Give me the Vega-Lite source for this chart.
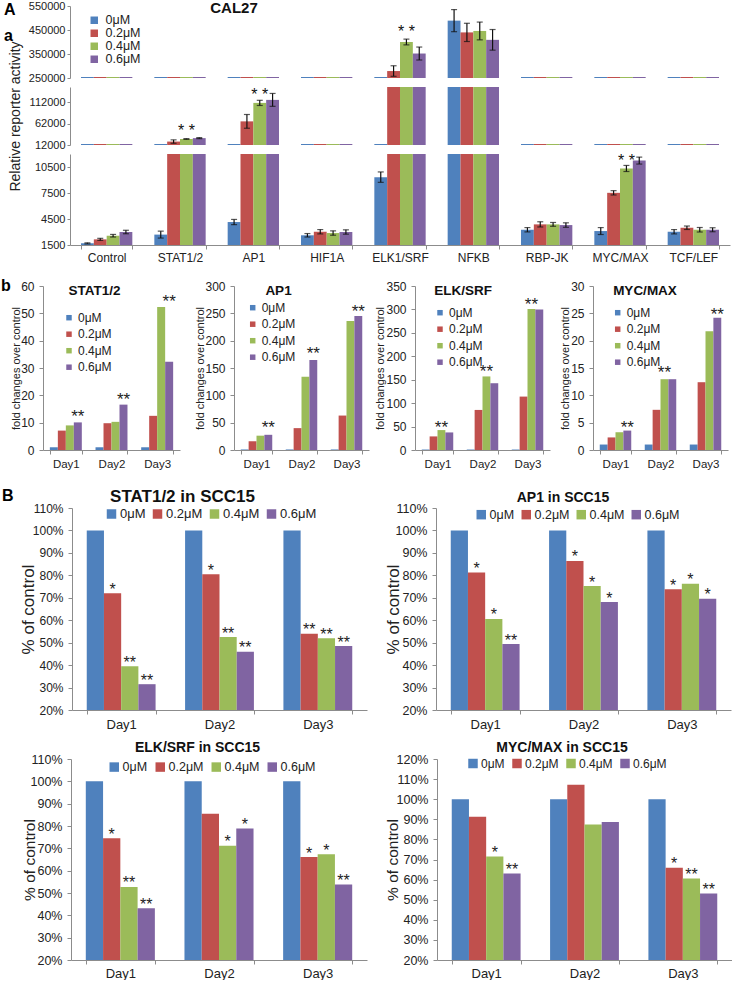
{
  "$schema": "https://vega.github.io/schema/vega-lite/v6.json",
  "padding": {"left": 1, "top": 0, "right": 0, "bottom": 0},
  "columns": 1,
  "align": "none",
  "spacing": 10,
  "config": {
    "font": "Liberation Sans",
    "view": {"stroke": null},
    "axis": {"grid": false, "labelOverlap": false, "domainColor": "#8c8c8c", "tickColor": "#8c8c8c", "labelColor": "#222222", "titleColor": "#222222", "titleFontWeight": "normal"},
    "legend": {"labelColor": "#222222", "padding": 0, "symbolStrokeWidth": 0},
    "title": {"color": "#111111"},
    "text": {"color": "#222222"}
  },
  "resolve": {"scale": {"color": "independent", "stroke": "independent", "x": "independent", "y": "independent", "xOffset": "independent"}, "legend": {"color": "independent"}},
  "datasets": {
    "A": [
      {"cat": "Control", "dose": "0μM", "v": 1700, "lo": 1640, "hi": 1760},
      {"cat": "Control", "dose": "0.2μM", "v": 2150, "lo": 2030, "hi": 2270},
      {"cat": "Control", "dose": "0.4μM", "v": 2570, "lo": 2420, "hi": 2720},
      {"cat": "Control", "dose": "0.6μM", "v": 3000, "lo": 2800, "hi": 3200},
      {"cat": "STAT1/2", "dose": "0μM", "v": 2700, "lo": 2300, "hi": 3100},
      {"cat": "STAT1/2", "dose": "0.2μM", "v": 20000, "lo": 16000, "hi": 24000},
      {"cat": "STAT1/2", "dose": "0.4μM", "v": 26000, "lo": 25200, "hi": 26800},
      {"cat": "STAT1/2", "dose": "0.6μM", "v": 28000, "lo": 26800, "hi": 29200},
      {"cat": "AP1", "dose": "0μM", "v": 4150, "lo": 3850, "hi": 4450},
      {"cat": "AP1", "dose": "0.2μM", "v": 67000, "lo": 51000, "hi": 83000},
      {"cat": "AP1", "dose": "0.4μM", "v": 110000, "lo": 104000, "hi": 116000},
      {"cat": "AP1", "dose": "0.6μM", "v": 117000, "lo": 102000, "hi": 132000},
      {"cat": "HIF1A", "dose": "0μM", "v": 2620, "lo": 2420, "hi": 2820},
      {"cat": "HIF1A", "dose": "0.2μM", "v": 3030, "lo": 2780, "hi": 3280},
      {"cat": "HIF1A", "dose": "0.4μM", "v": 2880, "lo": 2630, "hi": 3130},
      {"cat": "HIF1A", "dose": "0.6μM", "v": 3000, "lo": 2750, "hi": 3250},
      {"cat": "ELK1/SRF", "dose": "0μM", "v": 9330, "lo": 8730, "hi": 9930},
      {"cat": "ELK1/SRF", "dose": "0.2μM", "v": 279000, "lo": 257000, "hi": 301000},
      {"cat": "ELK1/SRF", "dose": "0.4μM", "v": 400000, "lo": 388000, "hi": 412000},
      {"cat": "ELK1/SRF", "dose": "0.6μM", "v": 352000, "lo": 325000, "hi": 379000},
      {"cat": "NFKB", "dose": "0μM", "v": 489000, "lo": 443000, "hi": 535000},
      {"cat": "NFKB", "dose": "0.2μM", "v": 440000, "lo": 402000, "hi": 478000},
      {"cat": "NFKB", "dose": "0.4μM", "v": 446000, "lo": 409000, "hi": 483000},
      {"cat": "NFKB", "dose": "0.6μM", "v": 409000, "lo": 366000, "hi": 452000},
      {"cat": "RBP-JK", "dose": "0μM", "v": 3260, "lo": 3010, "hi": 3510},
      {"cat": "RBP-JK", "dose": "0.2μM", "v": 3880, "lo": 3580, "hi": 4180},
      {"cat": "RBP-JK", "dose": "0.4μM", "v": 3880, "lo": 3660, "hi": 4100},
      {"cat": "RBP-JK", "dose": "0.6μM", "v": 3800, "lo": 3540, "hi": 4060},
      {"cat": "MYC/MAX", "dose": "0μM", "v": 3110, "lo": 2710, "hi": 3510},
      {"cat": "MYC/MAX", "dose": "0.2μM", "v": 7520, "lo": 7270, "hi": 7770},
      {"cat": "MYC/MAX", "dose": "0.4μM", "v": 10330, "lo": 9980, "hi": 10680},
      {"cat": "MYC/MAX", "dose": "0.6μM", "v": 11240, "lo": 10840, "hi": 11640},
      {"cat": "TCF/LEF", "dose": "0μM", "v": 3030, "lo": 2780, "hi": 3280},
      {"cat": "TCF/LEF", "dose": "0.2μM", "v": 3490, "lo": 3290, "hi": 3690},
      {"cat": "TCF/LEF", "dose": "0.4μM", "v": 3260, "lo": 3000, "hi": 3520},
      {"cat": "TCF/LEF", "dose": "0.6μM", "v": 3260, "lo": 3030, "hi": 3490}
    ],
    "Aann": [
      {"cat": "STAT1/2", "dose": "0.4μM", "seg": "mid", "y": 56000, "t": "* *"},
      {"cat": "AP1", "dose": "0.4μM", "seg": "mid", "y": 140000, "t": "* *"},
      {"cat": "ELK1/SRF", "dose": "0.4μM", "seg": "top", "y": 464000, "t": "* *"},
      {"cat": "MYC/MAX", "dose": "0.4μM", "seg": "bot", "y": 11800, "t": "* *"}
    ],
    "b": [
      {"p": "STAT1/2", "day": "Day1", "dose": "0μM", "v": 1, "t": ""},
      {"p": "STAT1/2", "day": "Day1", "dose": "0.2μM", "v": 7.1, "t": ""},
      {"p": "STAT1/2", "day": "Day1", "dose": "0.4μM", "v": 9.0, "t": ""},
      {"p": "STAT1/2", "day": "Day1", "dose": "0.6μM", "v": 10.1, "t": "**", "sy": 13.6},
      {"p": "STAT1/2", "day": "Day2", "dose": "0μM", "v": 1, "t": ""},
      {"p": "STAT1/2", "day": "Day2", "dose": "0.2μM", "v": 9.8, "t": ""},
      {"p": "STAT1/2", "day": "Day2", "dose": "0.4μM", "v": 10.3, "t": ""},
      {"p": "STAT1/2", "day": "Day2", "dose": "0.6μM", "v": 16.6, "t": "**", "sy": 19.8},
      {"p": "STAT1/2", "day": "Day3", "dose": "0μM", "v": 1, "t": ""},
      {"p": "STAT1/2", "day": "Day3", "dose": "0.2μM", "v": 12.5, "t": ""},
      {"p": "STAT1/2", "day": "Day3", "dose": "0.4μM", "v": 52.3, "t": ""},
      {"p": "STAT1/2", "day": "Day3", "dose": "0.6μM", "v": 32.3, "t": "**", "sy": 55.7},
      {"p": "AP1", "day": "Day1", "dose": "0μM", "v": 1, "t": ""},
      {"p": "AP1", "day": "Day1", "dose": "0.2μM", "v": 16, "t": ""},
      {"p": "AP1", "day": "Day1", "dose": "0.4μM", "v": 26.2, "t": ""},
      {"p": "AP1", "day": "Day1", "dose": "0.6μM", "v": 27.8, "t": "**", "sy": 47},
      {"p": "AP1", "day": "Day2", "dose": "0μM", "v": 1, "t": ""},
      {"p": "AP1", "day": "Day2", "dose": "0.2μM", "v": 40, "t": ""},
      {"p": "AP1", "day": "Day2", "dose": "0.4μM", "v": 134, "t": ""},
      {"p": "AP1", "day": "Day2", "dose": "0.6μM", "v": 164.5, "t": "**", "sy": 183},
      {"p": "AP1", "day": "Day3", "dose": "0μM", "v": 1, "t": ""},
      {"p": "AP1", "day": "Day3", "dose": "0.2μM", "v": 63, "t": ""},
      {"p": "AP1", "day": "Day3", "dose": "0.4μM", "v": 236, "t": ""},
      {"p": "AP1", "day": "Day3", "dose": "0.6μM", "v": 245, "t": "**", "sy": 260},
      {"p": "ELK/SRF", "day": "Day1", "dose": "0μM", "v": 1, "t": ""},
      {"p": "ELK/SRF", "day": "Day1", "dose": "0.2μM", "v": 29, "t": ""},
      {"p": "ELK/SRF", "day": "Day1", "dose": "0.4μM", "v": 42.5, "t": "**", "sy": 55.5},
      {"p": "ELK/SRF", "day": "Day1", "dose": "0.6μM", "v": 37.5, "t": ""},
      {"p": "ELK/SRF", "day": "Day2", "dose": "0μM", "v": 1, "t": ""},
      {"p": "ELK/SRF", "day": "Day2", "dose": "0.2μM", "v": 85.5, "t": ""},
      {"p": "ELK/SRF", "day": "Day2", "dose": "0.4μM", "v": 157, "t": "**", "sy": 175},
      {"p": "ELK/SRF", "day": "Day2", "dose": "0.6μM", "v": 142.5, "t": ""},
      {"p": "ELK/SRF", "day": "Day3", "dose": "0μM", "v": 1, "t": ""},
      {"p": "ELK/SRF", "day": "Day3", "dose": "0.2μM", "v": 114, "t": ""},
      {"p": "ELK/SRF", "day": "Day3", "dose": "0.4μM", "v": 301, "t": "**", "sy": 318},
      {"p": "ELK/SRF", "day": "Day3", "dose": "0.6μM", "v": 300, "t": ""},
      {"p": "MYC/MAX", "day": "Day1", "dose": "0μM", "v": 1, "t": ""},
      {"p": "MYC/MAX", "day": "Day1", "dose": "0.2μM", "v": 2.3, "t": ""},
      {"p": "MYC/MAX", "day": "Day1", "dose": "0.4μM", "v": 3.25, "t": ""},
      {"p": "MYC/MAX", "day": "Day1", "dose": "0.6μM", "v": 3.55, "t": "**", "sy": 4.75},
      {"p": "MYC/MAX", "day": "Day2", "dose": "0μM", "v": 1, "t": ""},
      {"p": "MYC/MAX", "day": "Day2", "dose": "0.2μM", "v": 7.35, "t": ""},
      {"p": "MYC/MAX", "day": "Day2", "dose": "0.4μM", "v": 12.95, "t": "**", "sy": 14.8},
      {"p": "MYC/MAX", "day": "Day2", "dose": "0.6μM", "v": 12.95, "t": ""},
      {"p": "MYC/MAX", "day": "Day3", "dose": "0μM", "v": 1, "t": ""},
      {"p": "MYC/MAX", "day": "Day3", "dose": "0.2μM", "v": 12.4, "t": ""},
      {"p": "MYC/MAX", "day": "Day3", "dose": "0.4μM", "v": 21.7, "t": ""},
      {"p": "MYC/MAX", "day": "Day3", "dose": "0.6μM", "v": 24.2, "t": "**", "sy": 25.4}
    ],
    "B": [
      {"p": "STAT", "day": "Day1", "dose": "0μM", "v": 100, "sig": ""},
      {"p": "STAT", "day": "Day1", "dose": "0.2μM", "v": 72, "sig": "*"},
      {"p": "STAT", "day": "Day1", "dose": "0.4μM", "v": 39.5, "sig": "**"},
      {"p": "STAT", "day": "Day1", "dose": "0.6μM", "v": 31.5, "sig": "**"},
      {"p": "STAT", "day": "Day2", "dose": "0μM", "v": 100, "sig": ""},
      {"p": "STAT", "day": "Day2", "dose": "0.2μM", "v": 80.5, "sig": "*"},
      {"p": "STAT", "day": "Day2", "dose": "0.4μM", "v": 52.5, "sig": "**"},
      {"p": "STAT", "day": "Day2", "dose": "0.6μM", "v": 46, "sig": "**"},
      {"p": "STAT", "day": "Day3", "dose": "0μM", "v": 100, "sig": ""},
      {"p": "STAT", "day": "Day3", "dose": "0.2μM", "v": 54, "sig": "**"},
      {"p": "STAT", "day": "Day3", "dose": "0.4μM", "v": 52, "sig": "**"},
      {"p": "STAT", "day": "Day3", "dose": "0.6μM", "v": 48.5, "sig": "**"},
      {"p": "AP1", "day": "Day1", "dose": "0μM", "v": 100, "sig": ""},
      {"p": "AP1", "day": "Day1", "dose": "0.2μM", "v": 81.3, "sig": "*"},
      {"p": "AP1", "day": "Day1", "dose": "0.4μM", "v": 60.6, "sig": "*"},
      {"p": "AP1", "day": "Day1", "dose": "0.6μM", "v": 49.4, "sig": "**"},
      {"p": "AP1", "day": "Day2", "dose": "0μM", "v": 100, "sig": ""},
      {"p": "AP1", "day": "Day2", "dose": "0.2μM", "v": 86.4, "sig": "*"},
      {"p": "AP1", "day": "Day2", "dose": "0.4μM", "v": 75.2, "sig": "*"},
      {"p": "AP1", "day": "Day2", "dose": "0.6μM", "v": 68.1, "sig": "*"},
      {"p": "AP1", "day": "Day3", "dose": "0μM", "v": 100, "sig": ""},
      {"p": "AP1", "day": "Day3", "dose": "0.2μM", "v": 73.8, "sig": "*"},
      {"p": "AP1", "day": "Day3", "dose": "0.4μM", "v": 76.3, "sig": "*"},
      {"p": "AP1", "day": "Day3", "dose": "0.6μM", "v": 69.6, "sig": "*"},
      {"p": "ELK", "day": "Day1", "dose": "0μM", "v": 100, "sig": ""},
      {"p": "ELK", "day": "Day1", "dose": "0.2μM", "v": 74.5, "sig": "*"},
      {"p": "ELK", "day": "Day1", "dose": "0.4μM", "v": 52.7, "sig": "**"},
      {"p": "ELK", "day": "Day1", "dose": "0.6μM", "v": 43.2, "sig": "**"},
      {"p": "ELK", "day": "Day2", "dose": "0μM", "v": 100, "sig": ""},
      {"p": "ELK", "day": "Day2", "dose": "0.2μM", "v": 85.5, "sig": ""},
      {"p": "ELK", "day": "Day2", "dose": "0.4μM", "v": 71.2, "sig": "*"},
      {"p": "ELK", "day": "Day2", "dose": "0.6μM", "v": 78.9, "sig": "*"},
      {"p": "ELK", "day": "Day3", "dose": "0μM", "v": 100, "sig": ""},
      {"p": "ELK", "day": "Day3", "dose": "0.2μM", "v": 66.1, "sig": "*"},
      {"p": "ELK", "day": "Day3", "dose": "0.4μM", "v": 67.4, "sig": "*"},
      {"p": "ELK", "day": "Day3", "dose": "0.6μM", "v": 53.8, "sig": "**"},
      {"p": "MYC", "day": "Day1", "dose": "0μM", "v": 100, "sig": ""},
      {"p": "MYC", "day": "Day1", "dose": "0.2μM", "v": 91.3, "sig": ""},
      {"p": "MYC", "day": "Day1", "dose": "0.4μM", "v": 71.5, "sig": "*"},
      {"p": "MYC", "day": "Day1", "dose": "0.6μM", "v": 63, "sig": "**"},
      {"p": "MYC", "day": "Day2", "dose": "0μM", "v": 100, "sig": ""},
      {"p": "MYC", "day": "Day2", "dose": "0.2μM", "v": 107.2, "sig": ""},
      {"p": "MYC", "day": "Day2", "dose": "0.4μM", "v": 87.4, "sig": ""},
      {"p": "MYC", "day": "Day2", "dose": "0.6μM", "v": 88.7, "sig": ""},
      {"p": "MYC", "day": "Day3", "dose": "0μM", "v": 100, "sig": ""},
      {"p": "MYC", "day": "Day3", "dose": "0.2μM", "v": 65.9, "sig": "*"},
      {"p": "MYC", "day": "Day3", "dose": "0.4μM", "v": 60.5, "sig": "**"},
      {"p": "MYC", "day": "Day3", "dose": "0.6μM", "v": 53.1, "sig": "**"}
    ]
  },
  "concat": [
    {
      "spacing": 0,
      "bounds": "flush",
      "resolve": {"scale": {"color": "independent", "stroke": "independent", "x": "independent", "y": "independent", "xOffset": "independent"}, "legend": {"color": "independent"}},
      "hconcat": [
        {"width": 27, "height": 1, "data": {"values": [{}]}, "mark": {"type": "point", "opacity": 0}, "encoding": {}},
        {
          "title": {"text": ["A", "a"], "anchor": "start", "frame": "bounds", "fontSize": 16, "fontWeight": "bold", "lineHeight": 26, "dx": -4, "dy": 43.5, "offset": 0, "color": "#000000"},
          "spacing": 9,
          "bounds": "flush",
          "resolve": {"scale": {"color": "independent", "stroke": "independent", "x": "independent", "y": "independent", "xOffset": "independent"}, "legend": {"color": "independent"}},
          "vconcat": [
            {
              "width": 660, "height": 72,
              "title": {"text": "CAL27", "fontSize": 15, "fontWeight": "bold", "anchor": "middle", "frame": "group", "dx": -166, "dy": 15.5, "offset": 0},
              "layer": [
                {"data": {"name": "A"}, "mark": {"type": "bar", "clip": true},
                 "encoding": {
                   "x": {"field": "cat", "type": "nominal", "scale": {"type": "band", "domain": ["Control","STAT1/2","AP1","HIF1A","ELK1/SRF","NFKB","RBP-JK","MYC/MAX","TCF/LEF"], "paddingInner": 0.3, "paddingOuter": 0.15}, "axis": null},
                   "xOffset": {"field": "dose", "type": "nominal", "scale": {"domain": ["0μM","0.2μM","0.4μM","0.6μM"]}},
                   "y": {"field": "v", "type": "quantitative", "stack": null, "title": null, "scale": {"domain": [250000, 550000], "zero": false, "nice": false, "clamp": true}, "axis": {"values": [250000, 350000, 450000, 550000], "format": "d", "labelOverlap": false, "labelFontSize": 11, "tickSize": 3, "labelPadding": 2, "minExtent": 46, "maxExtent": 46}},
                   "color": {"field": "dose", "type": "nominal", "scale": {"domain": ["0μM","0.2μM","0.4μM","0.6μM"], "range": ["#4F81BD","#C0504D","#9BBB59","#8064A2"]}, "legend": {"title": null, "orient": "none", "legendX": 18, "legendY": 8, "direction": "vertical", "symbolType": "square", "symbolSize": 56, "labelFontSize": 12.5, "rowPadding": 0, "labelOffset": 5}},
                   "stroke": {"field": "dose", "type": "nominal", "scale": {"domain": ["0μM","0.2μM","0.4μM","0.6μM"], "range": ["#4F81BD","#C0504D","#9BBB59","#8064A2"]}, "legend": null},
                   "strokeWidth": {"condition": {"test": "datum.v < 250000", "value": 2}, "value": 0}
                 }},
                {"data": {"name": "A"}, "transform": [{"filter": "datum.v >= 250000"}], "mark": {"type": "rule", "color": "#111111", "strokeWidth": 1.2},
                 "encoding": {"x": {"field": "cat", "type": "nominal", "axis": null}, "xOffset": {"field": "dose", "type": "nominal"}, "y": {"field": "lo", "type": "quantitative", "title": null, "axis": {"values": [250000, 350000, 450000, 550000], "format": "d", "labelOverlap": false, "labelFontSize": 11, "tickSize": 3, "labelPadding": 2, "minExtent": 46, "maxExtent": 46}}, "y2": {"field": "hi"}}},
                {"data": {"name": "A"}, "transform": [{"filter": "datum.v >= 250000"}], "mark": {"type": "tick", "color": "#111111", "thickness": 1.2, "size": 6},
                 "encoding": {"x": {"field": "cat", "type": "nominal", "axis": null}, "xOffset": {"field": "dose", "type": "nominal"}, "y": {"field": "lo", "type": "quantitative", "title": null, "axis": {"values": [250000, 350000, 450000, 550000], "format": "d", "labelOverlap": false, "labelFontSize": 11, "tickSize": 3, "labelPadding": 2, "minExtent": 46, "maxExtent": 46}}}},
                {"data": {"name": "A"}, "transform": [{"filter": "datum.v >= 250000"}], "mark": {"type": "tick", "color": "#111111", "thickness": 1.2, "size": 6},
                 "encoding": {"x": {"field": "cat", "type": "nominal", "axis": null}, "xOffset": {"field": "dose", "type": "nominal"}, "y": {"field": "hi", "type": "quantitative", "title": null, "axis": {"values": [250000, 350000, 450000, 550000], "format": "d", "labelOverlap": false, "labelFontSize": 11, "tickSize": 3, "labelPadding": 2, "minExtent": 46, "maxExtent": 46}}}},
                {"data": {"name": "Aann"}, "transform": [{"filter": "datum.seg == 'top'"}], "mark": {"type": "text", "fontSize": 16, "dy": 5, "color": "#111111"},
                 "encoding": {"x": {"field": "cat", "type": "nominal", "axis": null}, "xOffset": {"field": "dose", "type": "nominal"}, "y": {"field": "y", "type": "quantitative", "title": null, "axis": {"values": [250000, 350000, 450000, 550000], "format": "d", "labelOverlap": false, "labelFontSize": 11, "tickSize": 3, "labelPadding": 2, "minExtent": 46, "maxExtent": 46}}, "text": {"field": "t"}}}
              ]
            },
            {
              "width": 660, "height": 58,
              "layer": [
                {"data": {"name": "A"}, "mark": {"type": "bar", "clip": true},
                 "encoding": {
                   "x": {"field": "cat", "type": "nominal", "scale": {"type": "band", "domain": ["Control","STAT1/2","AP1","HIF1A","ELK1/SRF","NFKB","RBP-JK","MYC/MAX","TCF/LEF"], "paddingInner": 0.3, "paddingOuter": 0.15}, "axis": null},
                   "xOffset": {"field": "dose", "type": "nominal", "scale": {"domain": ["0μM","0.2μM","0.4μM","0.6μM"]}},
                   "y": {"field": "v", "type": "quantitative", "stack": null, "title": "Relative reporter activity", "scale": {"domain": [12000, 147000], "zero": false, "nice": false, "clamp": true}, "axis": {"values": [12000, 62000, 112000], "format": "d", "labelOverlap": false, "labelFontSize": 11, "tickSize": 3, "labelPadding": 2, "minExtent": 46, "maxExtent": 46, "titleFontSize": 14, "titlePadding": 2}},
                   "color": {"field": "dose", "type": "nominal", "scale": {"domain": ["0μM","0.2μM","0.4μM","0.6μM"], "range": ["#4F81BD","#C0504D","#9BBB59","#8064A2"]}, "legend": null},
                   "stroke": {"field": "dose", "type": "nominal", "scale": {"domain": ["0μM","0.2μM","0.4μM","0.6μM"], "range": ["#4F81BD","#C0504D","#9BBB59","#8064A2"]}, "legend": null},
                   "strokeWidth": {"condition": {"test": "datum.v < 12000", "value": 2}, "value": 0}
                 }},
                {"data": {"name": "A"}, "transform": [{"filter": "datum.v >= 12000 && datum.v < 147000"}], "mark": {"type": "rule", "color": "#111111", "strokeWidth": 1.2},
                 "encoding": {"x": {"field": "cat", "type": "nominal", "axis": null}, "xOffset": {"field": "dose", "type": "nominal"}, "y": {"field": "lo", "type": "quantitative", "title": "Relative reporter activity", "axis": {"values": [12000, 62000, 112000], "format": "d", "labelOverlap": false, "labelFontSize": 11, "tickSize": 3, "labelPadding": 2, "minExtent": 46, "maxExtent": 46, "titleFontSize": 14, "titlePadding": 2}}, "y2": {"field": "hi"}}},
                {"data": {"name": "A"}, "transform": [{"filter": "datum.v >= 12000 && datum.v < 147000"}], "mark": {"type": "tick", "color": "#111111", "thickness": 1.2, "size": 6},
                 "encoding": {"x": {"field": "cat", "type": "nominal", "axis": null}, "xOffset": {"field": "dose", "type": "nominal"}, "y": {"field": "lo", "type": "quantitative", "title": "Relative reporter activity", "axis": {"values": [12000, 62000, 112000], "format": "d", "labelOverlap": false, "labelFontSize": 11, "tickSize": 3, "labelPadding": 2, "minExtent": 46, "maxExtent": 46, "titleFontSize": 14, "titlePadding": 2}}}},
                {"data": {"name": "A"}, "transform": [{"filter": "datum.v >= 12000 && datum.v < 147000"}], "mark": {"type": "tick", "color": "#111111", "thickness": 1.2, "size": 6},
                 "encoding": {"x": {"field": "cat", "type": "nominal", "axis": null}, "xOffset": {"field": "dose", "type": "nominal"}, "y": {"field": "hi", "type": "quantitative", "title": "Relative reporter activity", "axis": {"values": [12000, 62000, 112000], "format": "d", "labelOverlap": false, "labelFontSize": 11, "tickSize": 3, "labelPadding": 2, "minExtent": 46, "maxExtent": 46, "titleFontSize": 14, "titlePadding": 2}}}},
                {"data": {"name": "Aann"}, "transform": [{"filter": "datum.seg == 'mid'"}], "mark": {"type": "text", "fontSize": 16, "dy": 5, "color": "#111111"},
                 "encoding": {"x": {"field": "cat", "type": "nominal", "axis": null}, "xOffset": {"field": "dose", "type": "nominal"}, "y": {"field": "y", "type": "quantitative", "title": "Relative reporter activity", "axis": {"values": [12000, 62000, 112000], "format": "d", "labelOverlap": false, "labelFontSize": 11, "tickSize": 3, "labelPadding": 2, "minExtent": 46, "maxExtent": 46, "titleFontSize": 14, "titlePadding": 2}}, "text": {"field": "t"}}}
              ]
            },
            {
              "width": 660, "height": 91,
              "layer": [
                {"data": {"name": "A"}, "mark": {"type": "bar", "clip": true},
                 "encoding": {
                   "x": {"field": "cat", "type": "nominal", "title": null, "scale": {"type": "band", "domain": ["Control","STAT1/2","AP1","HIF1A","ELK1/SRF","NFKB","RBP-JK","MYC/MAX","TCF/LEF"], "paddingInner": 0.3, "paddingOuter": 0.15}, "axis": {"labelAngle": 0, "tickBand": "extent", "tickSize": 4, "labelPadding": 3, "labelFontSize": 12, "minExtent": 21.5, "maxExtent": 21.5}},
                   "xOffset": {"field": "dose", "type": "nominal", "scale": {"domain": ["0μM","0.2μM","0.4μM","0.6μM"]}},
                   "y": {"field": "v", "type": "quantitative", "stack": null, "title": null, "scale": {"domain": [1500, 12000], "zero": false, "nice": false, "clamp": true}, "axis": {"values": [1500, 4500, 7500, 10500], "format": "d", "labelOverlap": false, "labelFontSize": 11, "tickSize": 3, "labelPadding": 2, "minExtent": 46, "maxExtent": 46}},
                   "color": {"field": "dose", "type": "nominal", "scale": {"domain": ["0μM","0.2μM","0.4μM","0.6μM"], "range": ["#4F81BD","#C0504D","#9BBB59","#8064A2"]}, "legend": null}
                 }},
                {"data": {"name": "A"}, "transform": [{"filter": "datum.v < 12000"}], "mark": {"type": "rule", "color": "#111111", "strokeWidth": 1.2},
                 "encoding": {"x": {"field": "cat", "type": "nominal", "title": null, "axis": {"labelAngle": 0, "tickBand": "extent", "tickSize": 4, "labelPadding": 3, "labelFontSize": 12, "minExtent": 21.5, "maxExtent": 21.5}}, "xOffset": {"field": "dose", "type": "nominal"}, "y": {"field": "lo", "type": "quantitative", "title": null, "axis": {"values": [1500, 4500, 7500, 10500], "format": "d", "labelOverlap": false, "labelFontSize": 11, "tickSize": 3, "labelPadding": 2, "minExtent": 46, "maxExtent": 46}}, "y2": {"field": "hi"}}},
                {"data": {"name": "A"}, "transform": [{"filter": "datum.v < 12000"}], "mark": {"type": "tick", "color": "#111111", "thickness": 1.2, "size": 6},
                 "encoding": {"x": {"field": "cat", "type": "nominal", "title": null, "axis": {"labelAngle": 0, "tickBand": "extent", "tickSize": 4, "labelPadding": 3, "labelFontSize": 12, "minExtent": 21.5, "maxExtent": 21.5}}, "xOffset": {"field": "dose", "type": "nominal"}, "y": {"field": "lo", "type": "quantitative", "title": null, "axis": {"values": [1500, 4500, 7500, 10500], "format": "d", "labelOverlap": false, "labelFontSize": 11, "tickSize": 3, "labelPadding": 2, "minExtent": 46, "maxExtent": 46}}}},
                {"data": {"name": "A"}, "transform": [{"filter": "datum.v < 12000"}], "mark": {"type": "tick", "color": "#111111", "thickness": 1.2, "size": 6},
                 "encoding": {"x": {"field": "cat", "type": "nominal", "title": null, "axis": {"labelAngle": 0, "tickBand": "extent", "tickSize": 4, "labelPadding": 3, "labelFontSize": 12, "minExtent": 21.5, "maxExtent": 21.5}}, "xOffset": {"field": "dose", "type": "nominal"}, "y": {"field": "hi", "type": "quantitative", "title": null, "axis": {"values": [1500, 4500, 7500, 10500], "format": "d", "labelOverlap": false, "labelFontSize": 11, "tickSize": 3, "labelPadding": 2, "minExtent": 46, "maxExtent": 46}}}},
                {"data": {"name": "Aann"}, "transform": [{"filter": "datum.seg == 'bot'"}], "mark": {"type": "text", "fontSize": 16, "dy": 5, "color": "#111111"},
                 "encoding": {"x": {"field": "cat", "type": "nominal", "title": null, "axis": {"labelAngle": 0, "tickBand": "extent", "tickSize": 4, "labelPadding": 3, "labelFontSize": 12, "minExtent": 21.5, "maxExtent": 21.5}}, "xOffset": {"field": "dose", "type": "nominal"}, "y": {"field": "y", "type": "quantitative", "title": null, "axis": {"values": [1500, 4500, 7500, 10500], "format": "d", "labelOverlap": false, "labelFontSize": 11, "tickSize": 3, "labelPadding": 2, "minExtent": 46, "maxExtent": 46}}, "text": {"field": "t"}}}
              ]
            }
          ]
        }
      ]
    },
    {
      "title": {"text": "b", "anchor": "start", "frame": "bounds", "fontSize": 16, "fontWeight": "bold", "dx": -9, "dy": 13.5, "offset": 0, "color": "#000000"},
      "spacing": 54,
      "bounds": "flush",
      "resolve": {"scale": {"color": "independent", "x": "independent", "y": "independent", "xOffset": "independent"}, "legend": {"color": "independent"}},
      "hconcat": [
        {
          "width": 137, "height": 164,
          "title": {"text": "STAT1/2", "fontSize": 13.5, "fontWeight": "bold", "anchor": "middle", "frame": "group", "dx": -17, "dy": 17, "offset": 0},
          "data": {"name": "b"},
          "transform": [{"filter": "datum.p == 'STAT1/2'"}],
          "encoding": {
            "x": {"field": "day", "type": "nominal", "title": null, "scale": {"type": "band", "domain": ["Day1","Day2","Day3"], "paddingInner": 0.3, "paddingOuter": 0.15}, "axis": {"labelAngle": 0, "tickBand": "extent", "tickSize": 4, "labelPadding": 4, "labelFontSize": 11.5, "minExtent": 26.5, "maxExtent": 26.5}},
            "xOffset": {"field": "dose", "type": "nominal", "scale": {"domain": ["0μM","0.2μM","0.4μM","0.6μM"]}}
          },
          "layer": [
            {"mark": {"type": "bar"},
             "encoding": {
               "y": {"field": "v", "type": "quantitative", "stack": null, "title": "fold changes over control", "scale": {"domain": [0, 60], "nice": false}, "axis": {"values": [0,10,20,30,40,50,60], "labelOverlap": false, "titleFontSize": 11, "titlePadding": 1, "labelFontSize": 12, "tickSize": 4, "labelPadding": 5, "minExtent": 21, "maxExtent": 21}},
               "color": {"field": "dose", "type": "nominal", "scale": {"domain": ["0μM","0.2μM","0.4μM","0.6μM"], "range": ["#4F81BD","#C0504D","#9BBB59","#8064A2"]}, "legend": {"title": null, "orient": "none", "legendX": 20, "legendY": 25.7, "direction": "vertical", "symbolType": "square", "symbolSize": 30, "labelFontSize": 12, "rowPadding": 4.5, "labelOffset": 3}}
             }},
            {"transform": [{"filter": "datum.t != ''"}], "mark": {"type": "text", "fontSize": 17, "dy": 4},
             "encoding": {"y": {"field": "sy", "type": "quantitative", "title": "fold changes over control", "axis": {"values": [0,10,20,30,40,50,60], "labelOverlap": false, "titleFontSize": 11, "titlePadding": 1, "labelFontSize": 12, "tickSize": 4, "labelPadding": 5, "minExtent": 21, "maxExtent": 21}}, "text": {"field": "t"}}}
          ]
        },
        {
          "spacing": 46,
          "bounds": "flush",
          "resolve": {"scale": {"color": "independent", "x": "independent", "y": "independent", "xOffset": "independent"}, "legend": {"color": "independent"}},
          "hconcat": [
            {
              "width": 135, "height": 164,
              "title": {"text": "AP1", "fontSize": 13.5, "fontWeight": "bold", "anchor": "middle", "frame": "group", "dx": -23, "dy": 17, "offset": 0},
              "data": {"name": "b"},
              "transform": [{"filter": "datum.p == 'AP1'"}],
              "encoding": {
                "x": {"field": "day", "type": "nominal", "title": null, "scale": {"type": "band", "domain": ["Day1","Day2","Day3"], "paddingInner": 0.3, "paddingOuter": 0.15}, "axis": {"labelAngle": 0, "tickBand": "extent", "tickSize": 4, "labelPadding": 4, "labelFontSize": 11.5, "minExtent": 26.5, "maxExtent": 26.5}},
                "xOffset": {"field": "dose", "type": "nominal", "scale": {"domain": ["0μM","0.2μM","0.4μM","0.6μM"]}}
              },
              "layer": [
                {"mark": {"type": "bar"},
                 "encoding": {
                   "y": {"field": "v", "type": "quantitative", "stack": null, "title": "fold changes over control", "scale": {"domain": [0, 300], "nice": false}, "axis": {"values": [0,50,100,150,200,250,300], "labelOverlap": false, "titleFontSize": 11, "titlePadding": 2, "labelFontSize": 12, "tickSize": 4, "labelPadding": 5, "minExtent": 27, "maxExtent": 27}},
                   "color": {"field": "dose", "type": "nominal", "scale": {"domain": ["0μM","0.2μM","0.4μM","0.6μM"], "range": ["#4F81BD","#C0504D","#9BBB59","#8064A2"]}, "legend": {"title": null, "orient": "none", "legendX": 12.7, "legendY": 15.7, "direction": "vertical", "symbolType": "square", "symbolSize": 30, "labelFontSize": 12, "rowPadding": 4.5, "labelOffset": 3}}
                 }},
                {"transform": [{"filter": "datum.t != ''"}], "mark": {"type": "text", "fontSize": 17, "dy": 4},
                 "encoding": {"y": {"field": "sy", "type": "quantitative", "title": "fold changes over control", "axis": {"values": [0,50,100,150,200,250,300], "labelOverlap": false, "titleFontSize": 11, "titlePadding": 2, "labelFontSize": 12, "tickSize": 4, "labelPadding": 5, "minExtent": 27, "maxExtent": 27}}, "text": {"field": "t"}}}
              ]
            },
            {
              "spacing": 43,
              "bounds": "flush",
              "resolve": {"scale": {"color": "independent", "x": "independent", "y": "independent", "xOffset": "independent"}, "legend": {"color": "independent"}},
              "hconcat": [
                {
                  "width": 135, "height": 164,
                  "title": {"text": "ELK/SRF", "fontSize": 13.5, "fontWeight": "bold", "anchor": "middle", "frame": "group", "dx": -19.5, "dy": 17, "offset": 0},
                  "data": {"name": "b"},
                  "transform": [{"filter": "datum.p == 'ELK/SRF'"}],
                  "encoding": {
                    "x": {"field": "day", "type": "nominal", "title": null, "scale": {"type": "band", "domain": ["Day1","Day2","Day3"], "paddingInner": 0.3, "paddingOuter": 0.15}, "axis": {"labelAngle": 0, "tickBand": "extent", "tickSize": 4, "labelPadding": 4, "labelFontSize": 11.5, "minExtent": 26.5, "maxExtent": 26.5}},
                    "xOffset": {"field": "dose", "type": "nominal", "scale": {"domain": ["0μM","0.2μM","0.4μM","0.6μM"]}}
                  },
                  "layer": [
                    {"mark": {"type": "bar"},
                     "encoding": {
                       "y": {"field": "v", "type": "quantitative", "stack": null, "title": "fold changes over control", "scale": {"domain": [0, 350], "nice": false}, "axis": {"values": [0,50,100,150,200,250,300,350], "labelOverlap": false, "titleFontSize": 11, "titlePadding": 2, "labelFontSize": 12, "tickSize": 4, "labelPadding": 5, "minExtent": 28, "maxExtent": 28}},
                       "color": {"field": "dose", "type": "nominal", "scale": {"domain": ["0μM","0.2μM","0.4μM","0.6μM"], "range": ["#4F81BD","#C0504D","#9BBB59","#8064A2"]}, "legend": {"title": null, "orient": "none", "legendX": 19, "legendY": 20.7, "direction": "vertical", "symbolType": "square", "symbolSize": 30, "labelFontSize": 12, "rowPadding": 4.5, "labelOffset": 3}}
                     }},
                    {"transform": [{"filter": "datum.t != ''"}], "mark": {"type": "text", "fontSize": 17, "dy": 4},
                     "encoding": {"y": {"field": "sy", "type": "quantitative", "title": "fold changes over control", "axis": {"values": [0,50,100,150,200,250,300,350], "labelOverlap": false, "titleFontSize": 11, "titlePadding": 2, "labelFontSize": 12, "tickSize": 4, "labelPadding": 5, "minExtent": 28, "maxExtent": 28}}, "text": {"field": "t"}}}
                  ]
                },
                {
                  "width": 135, "height": 164,
                  "title": {"text": "MYC/MAX", "fontSize": 13.5, "fontWeight": "bold", "anchor": "middle", "frame": "group", "dx": -15.5, "dy": 17, "offset": 0},
                  "data": {"name": "b"},
                  "transform": [{"filter": "datum.p == 'MYC/MAX'"}],
                  "encoding": {
                    "x": {"field": "day", "type": "nominal", "title": null, "scale": {"type": "band", "domain": ["Day1","Day2","Day3"], "paddingInner": 0.3, "paddingOuter": 0.15}, "axis": {"labelAngle": 0, "tickBand": "extent", "tickSize": 4, "labelPadding": 4, "labelFontSize": 11.5, "minExtent": 26.5, "maxExtent": 26.5}},
                    "xOffset": {"field": "dose", "type": "nominal", "scale": {"domain": ["0μM","0.2μM","0.4μM","0.6μM"]}}
                  },
                  "layer": [
                    {"mark": {"type": "bar"},
                     "encoding": {
                       "y": {"field": "v", "type": "quantitative", "stack": null, "title": "fold changes over control", "scale": {"domain": [0, 30], "nice": false}, "axis": {"values": [0,5,10,15,20,25,30], "labelOverlap": false, "titleFontSize": 11, "titlePadding": 2, "labelFontSize": 12, "tickSize": 4, "labelPadding": 5, "minExtent": 21, "maxExtent": 21}},
                       "color": {"field": "dose", "type": "nominal", "scale": {"domain": ["0μM","0.2μM","0.4μM","0.6μM"], "range": ["#4F81BD","#C0504D","#9BBB59","#8064A2"]}, "legend": {"title": null, "orient": "none", "legendX": 18.7, "legendY": 20.7, "direction": "vertical", "symbolType": "square", "symbolSize": 30, "labelFontSize": 12, "rowPadding": 4.5, "labelOffset": 3}}
                     }},
                    {"transform": [{"filter": "datum.t != ''"}], "mark": {"type": "text", "fontSize": 17, "dy": 4},
                     "encoding": {"y": {"field": "sy", "type": "quantitative", "title": "fold changes over control", "axis": {"values": [0,5,10,15,20,25,30], "labelOverlap": false, "titleFontSize": 11, "titlePadding": 2, "labelFontSize": 12, "tickSize": 4, "labelPadding": 5, "minExtent": 21, "maxExtent": 21}}, "text": {"field": "t"}}}
                  ]
                }
              ]
            }
          ]
        }
      ]
    },
    {
      "title": {"text": "B", "anchor": "start", "frame": "bounds", "fontSize": 16, "fontWeight": "bold", "dx": -17, "dy": 15.5, "offset": 0, "color": "#000000"},
      "spacing": 0,
      "bounds": "flush",
      "resolve": {"scale": {"color": "independent", "x": "independent", "y": "independent", "xOffset": "independent"}, "legend": {"color": "independent"}},
      "hconcat": [
        {"width": 29, "height": 1, "data": {"values": [{}]}, "mark": {"type": "point", "opacity": 0}, "encoding": {}},
        {
          "spacing": 69,
          "bounds": "flush",
          "resolve": {"scale": {"color": "independent", "x": "independent", "y": "independent", "xOffset": "independent"}, "legend": {"color": "independent"}},
          "hconcat": [
            {
              "width": 295, "height": 202,
              "title": {"text": "STAT1/2 in SCC15", "fontSize": 17, "fontWeight": "bold", "anchor": "middle", "frame": "group", "dx": -37, "dy": 4, "offset": 0},
              "data": {"name": "B"},
              "transform": [{"filter": "datum.p == 'STAT'"}],
              "encoding": {
                "x": {"field": "day", "type": "nominal", "title": null, "scale": {"type": "band", "domain": ["Day1","Day2","Day3"], "paddingInner": 0.3, "paddingOuter": 0.15}, "axis": {"labelAngle": 0, "tickBand": "extent", "tickSize": 4, "labelPadding": 4, "labelFontSize": 13, "minExtent": 18.4, "maxExtent": 18.4}},
                "xOffset": {"field": "dose", "type": "nominal", "scale": {"domain": ["0μM","0.2μM","0.4μM","0.6μM"]}},
                "y": {"field": "v", "type": "quantitative", "stack": null, "title": "% of control", "scale": {"domain": [20, 110], "zero": false, "nice": false}, "axis": {"values": [20,30,40,50,60,70,80,90,100,110], "labelOverlap": false, "labelExpr": "datum.value + '%'", "titleFontSize": 17, "titlePadding": 2, "labelFontSize": 12, "tickSize": 4, "labelPadding": 5, "minExtent": 33, "maxExtent": 33}}
              },
              "layer": [
                {"mark": {"type": "bar"},
                 "encoding": {"color": {"field": "dose", "type": "nominal", "scale": {"domain": ["0μM","0.2μM","0.4μM","0.6μM"], "range": ["#4F81BD","#C0504D","#9BBB59","#8064A2"]}, "legend": {"title": null, "orient": "none", "legendX": 33, "legendY": -0.75, "direction": "horizontal", "symbolType": "square", "symbolSize": 90, "labelFontSize": 13, "columnPadding": 5, "labelOffset": 2}}}},
                {"mark": {"type": "text", "fontSize": 16, "baseline": "alphabetic", "dy": 1.5},
                 "encoding": {"text": {"field": "sig"}}}
              ]
            },
            {
              "width": 295, "height": 202,
              "title": {"text": "AP1 in SCC15", "fontSize": 14, "fontWeight": "bold", "anchor": "middle", "frame": "group", "dx": -20.5, "dy": 3, "offset": 0},
              "data": {"name": "B"},
              "transform": [{"filter": "datum.p == 'AP1'"}],
              "encoding": {
                "x": {"field": "day", "type": "nominal", "title": null, "scale": {"type": "band", "domain": ["Day1","Day2","Day3"], "paddingInner": 0.3, "paddingOuter": 0.15}, "axis": {"labelAngle": 0, "tickBand": "extent", "tickSize": 4, "labelPadding": 4, "labelFontSize": 13, "minExtent": 18.4, "maxExtent": 18.4}},
                "xOffset": {"field": "dose", "type": "nominal", "scale": {"domain": ["0μM","0.2μM","0.4μM","0.6μM"]}},
                "y": {"field": "v", "type": "quantitative", "stack": null, "title": "% of control", "scale": {"domain": [20, 110], "zero": false, "nice": false}, "axis": {"values": [20,30,40,50,60,70,80,90,100,110], "labelOverlap": false, "labelExpr": "datum.value + '%'", "titleFontSize": 17, "titlePadding": 2, "labelFontSize": 12.5, "tickSize": 4, "labelPadding": 5, "minExtent": 31.5, "maxExtent": 31.5}}
              },
              "layer": [
                {"mark": {"type": "bar"},
                 "encoding": {"color": {"field": "dose", "type": "nominal", "scale": {"domain": ["0μM","0.2μM","0.4μM","0.6μM"], "range": ["#4F81BD","#C0504D","#9BBB59","#8064A2"]}, "legend": {"title": null, "orient": "none", "legendX": 39, "legendY": 0.3, "direction": "horizontal", "symbolType": "square", "symbolSize": 90, "labelFontSize": 12.5, "columnPadding": 5, "labelOffset": 2}}}},
                {"mark": {"type": "text", "fontSize": 16, "baseline": "alphabetic", "dy": 1.5},
                 "encoding": {"text": {"field": "sig"}}}
              ]
            }
          ]
        }
      ]
    },
    {
      "spacing": 0,
      "bounds": "flush",
      "resolve": {"scale": {"color": "independent", "x": "independent", "y": "independent", "xOffset": "independent"}, "legend": {"color": "independent"}},
      "hconcat": [
        {"width": 28, "height": 1, "data": {"values": [{}]}, "mark": {"type": "point", "opacity": 0}, "encoding": {}},
        {
          "spacing": 70,
          "bounds": "flush",
          "resolve": {"scale": {"color": "independent", "x": "independent", "y": "independent", "xOffset": "independent"}, "legend": {"color": "independent"}},
          "hconcat": [
            {
              "width": 296, "height": 201,
              "title": {"text": "ELK/SRF in SCC15", "fontSize": 14, "fontWeight": "bold", "anchor": "middle", "frame": "group", "dx": -21.5, "dy": 2.4, "offset": 0},
              "data": {"name": "B"},
              "transform": [{"filter": "datum.p == 'ELK'"}],
              "encoding": {
                "x": {"field": "day", "type": "nominal", "title": null, "scale": {"type": "band", "domain": ["Day1","Day2","Day3"], "paddingInner": 0.3, "paddingOuter": 0.15}, "axis": {"labelAngle": 0, "tickBand": "extent", "tickSize": 4, "labelPadding": 3, "labelFontSize": 13}},
                "xOffset": {"field": "dose", "type": "nominal", "scale": {"domain": ["0μM","0.2μM","0.4μM","0.6μM"]}},
                "y": {"field": "v", "type": "quantitative", "stack": null, "title": "% of control", "scale": {"domain": [20, 110], "zero": false, "nice": false}, "axis": {"values": [20,30,40,50,60,70,80,90,100,110], "labelOverlap": false, "labelExpr": "datum.value + '%'", "titleFontSize": 15.5, "titlePadding": 2, "labelFontSize": 12.5, "tickSize": 4, "labelPadding": 5, "minExtent": 32, "maxExtent": 32}}
              },
              "layer": [
                {"mark": {"type": "bar"},
                 "encoding": {"color": {"field": "dose", "type": "nominal", "scale": {"domain": ["0μM","0.2μM","0.4μM","0.6μM"], "range": ["#4F81BD","#C0504D","#9BBB59","#8064A2"]}, "legend": {"title": null, "orient": "none", "legendX": 37, "legendY": 1.7, "direction": "horizontal", "symbolType": "square", "symbolSize": 90, "labelFontSize": 12.5, "columnPadding": 6, "labelOffset": 2}}}},
                {"mark": {"type": "text", "fontSize": 16, "baseline": "alphabetic", "dy": 1.5},
                 "encoding": {"text": {"field": "sig"}}}
              ]
            },
            {
              "width": 295, "height": 201,
              "title": {"text": "MYC/MAX in SCC15", "fontSize": 14, "fontWeight": "bold", "anchor": "middle", "frame": "group", "dx": -22.5, "dy": 2.4, "offset": 0},
              "data": {"name": "B"},
              "transform": [{"filter": "datum.p == 'MYC'"}],
              "encoding": {
                "x": {"field": "day", "type": "nominal", "title": null, "scale": {"type": "band", "domain": ["Day1","Day2","Day3"], "paddingInner": 0.3, "paddingOuter": 0.15}, "axis": {"labelAngle": 0, "tickBand": "extent", "tickSize": 4, "labelPadding": 3, "labelFontSize": 13}},
                "xOffset": {"field": "dose", "type": "nominal", "scale": {"domain": ["0μM","0.2μM","0.4μM","0.6μM"]}},
                "y": {"field": "v", "type": "quantitative", "stack": null, "title": "% of control", "scale": {"domain": [20, 120], "zero": false, "nice": false}, "axis": {"values": [20,30,40,50,60,70,80,90,100,110,120], "labelOverlap": false, "labelExpr": "datum.value + '%'", "titleFontSize": 15.5, "titlePadding": 2, "labelFontSize": 12.5, "tickSize": 4, "labelPadding": 5, "minExtent": 35, "maxExtent": 35}}
              },
              "layer": [
                {"mark": {"type": "bar"},
                 "encoding": {"color": {"field": "dose", "type": "nominal", "scale": {"domain": ["0μM","0.2μM","0.4μM","0.6μM"], "range": ["#4F81BD","#C0504D","#9BBB59","#8064A2"]}, "legend": {"title": null, "orient": "none", "legendX": 30, "legendY": -1.5, "direction": "horizontal", "symbolType": "square", "symbolSize": 90, "labelFontSize": 12, "columnPadding": 6, "labelOffset": 2}}}},
                {"mark": {"type": "text", "fontSize": 16, "baseline": "alphabetic", "dy": 1.5},
                 "encoding": {"text": {"field": "sig"}}}
              ]
            }
          ]
        }
      ]
    }
  ]
}
